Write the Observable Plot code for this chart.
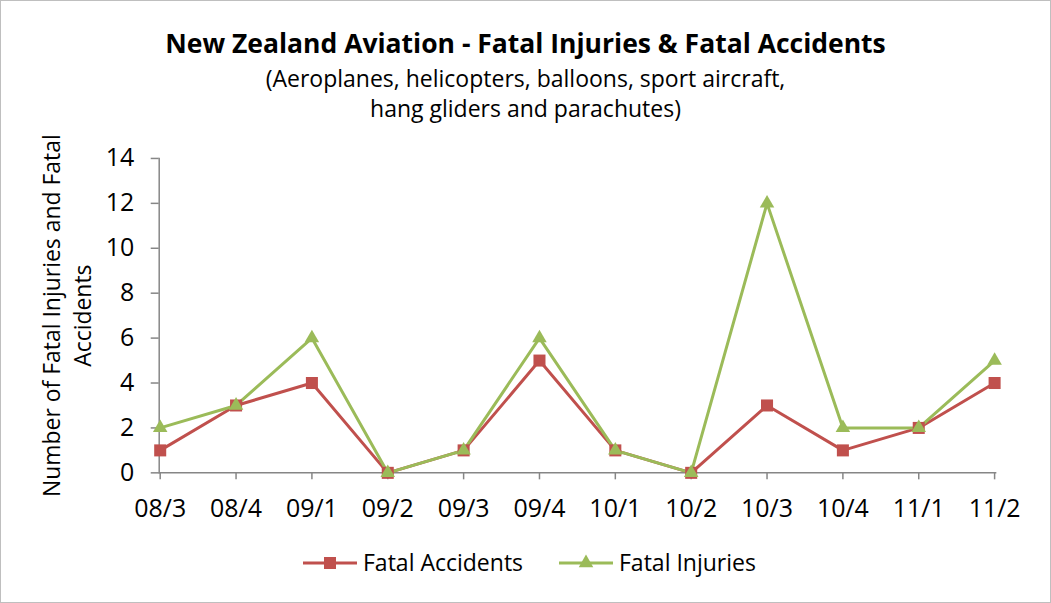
<!DOCTYPE html>
<html>
<head>
<meta charset="utf-8">
<script src="https://cdn.jsdelivr.net/npm/d3@7"></script>
<script src="https://cdn.jsdelivr.net/npm/@observablehq/plot@0.6"></script>
<style>
  html, body { margin: 0; padding: 0; background: #fff; }
  #fig { position: relative; width: 1051px; height: 603px; box-sizing: border-box; border: 1px solid #bfbfbf; font-family: "Open Sans", sans-serif; color: #000; overflow: hidden; }
  .t { position: absolute; left: 0; width: 100%; text-align: center; white-space: nowrap; line-height: 1.3; }
  #chart { position: absolute; left: 0; top: 130px; }
  #legend { position: absolute; left: 0; top: 545px; width: 100%; height: 34px; }
</style>
</head>
<body>
<div id="fig">
  <div class="t" style="top:25px;font-size:26.5px;font-weight:700;">New Zealand Aviation - Fatal Injuries &amp; Fatal Accidents</div>
  <div class="t" style="top:63px;font-size:23px;">(Aeroplanes, helicopters, balloons, sport aircraft,</div>
  <div class="t" style="top:93px;font-size:23px;">hang gliders and parachutes)</div>
  <div id="chart"></div>
  <div id="legend"></div>
</div>
<script>
const quarters = ["08/3","08/4","09/1","09/2","09/3","09/4","10/1","10/2","10/3","10/4","11/1","11/2"];
const fatalAccidents = [1,3,4,0,1,5,1,0,3,1,2,4];
const fatalInjuries = [2,3,6,0,1,6,1,0,12,2,2,5];
const yTicks = [0,2,4,6,8,10,12,14];
const seriesNames = ["Fatal Accidents","Fatal Injuries"];
const colors = {"Fatal Accidents": "#C0504D", "Fatal Injuries": "#9BBB59"};

const acc = quarters.map((q,i) => ({q, v: fatalAccidents[i]}));
const inj = quarters.map((q,i) => ({q, v: fatalInjuries[i]}));
const axisColor = "#868686";

const plot = Plot.plot({
  width: 1051,
  height: 400,
  marginLeft: 158,
  marginRight: 55,
  marginTop: 27,
  marginBottom: 58,
  style: {fontFamily: "Open Sans, sans-serif", fontSize: "25px", color: "#000", background: "transparent", overflow: "visible"},
  x: {type: "point", domain: quarters, padding: 0, label: null},
  y: {domain: [0,14], ticks: yTicks, label: null},
  marks: [
    Plot.axisX({tickSize: 7, tickPadding: 19, stroke: axisColor, strokeWidth: 1.5, strokeOpacity: 1, fill: "#000", fontSize: 25, label: null}),
    Plot.axisY({ticks: yTicks, tickSize: 8, tickPadding: 17, stroke: axisColor, strokeWidth: 1.5, strokeOpacity: 1, fill: "#000", fontSize: 25, label: null}),
    Plot.frame({anchor: "left", stroke: axisColor, strokeWidth: 1.5}),
    Plot.frame({anchor: "bottom", stroke: axisColor, strokeWidth: 1.5}),
    Plot.line(acc, {x: "q", y: "v", stroke: colors["Fatal Accidents"], strokeWidth: 3}),
    Plot.line(inj, {x: "q", y: "v", stroke: colors["Fatal Injuries"], strokeWidth: 3}),
    Plot.dot(acc, {x: "q", y: "v", symbol: "square", r: 6.8, fill: colors["Fatal Accidents"], stroke: "none"}),
    Plot.dot(inj, {x: "q", y: "v", symbol: "triangle", r: 5.4, fill: colors["Fatal Injuries"], stroke: "none"}),
    Plot.text(["Number of Fatal Injuries and Fatal\nAccidents"], {frameAnchor: "left", textAnchor: "middle", rotate: -90, dx: -94, fontSize: 23, fill: "#000", lineHeight: 1.36})
  ]
});
// make sure tick labels use the intended size
d3.select(plot).selectAll('g[aria-label$="tick label"]').attr("font-size", 25);
document.getElementById("chart").appendChild(plot);

// legend
const lg = d3.select("#legend").append("svg").attr("width", 1051).attr("height", 34);
const items = [
  {name: seriesNames[0], x0: 302, sym: "square"},
  {name: seriesNames[1], x0: 558, sym: "triangle"}
];
items.forEach(it => {
  const g = lg.append("g");
  g.append("line").attr("x1", it.x0).attr("x2", it.x0 + 54).attr("y1", 17).attr("y2", 17)
    .attr("stroke", colors[it.name]).attr("stroke-width", 3);
  const cx = it.x0 + 27;
  if (it.sym === "square") {
    g.append("rect").attr("x", cx - 6).attr("y", 11).attr("width", 12).attr("height", 12).attr("fill", colors[it.name]);
  } else {
    g.append("path").attr("d", d3.symbol(d3.symbolTriangle, Math.PI * 5.4 * 5.4)()).attr("transform", `translate(${cx},17)`).attr("fill", colors[it.name]);
  }
  g.append("text").attr("x", it.x0 + 60).attr("y", 17).attr("dy", "0.35em")
    .attr("font-family", "Open Sans, sans-serif").attr("font-size", 23).attr("fill", "#000").text(it.name);
});
</script>
</body>
</html>
